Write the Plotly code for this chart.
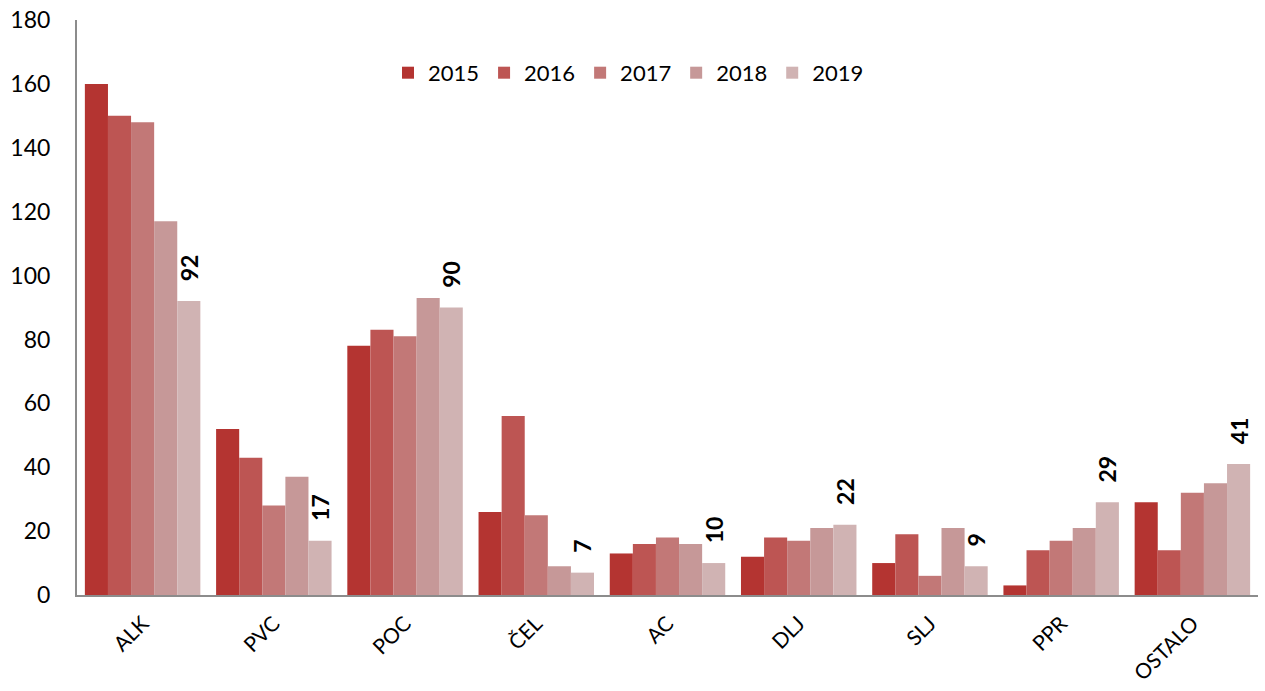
import plotly.graph_objects as go

categories = ["ALK", "PVC", "POC", "ČEL", "AC", "DLJ", "SLJ", "PPR", "OSTALO"]
years = ["2015", "2016", "2017", "2018", "2019"]
v2015 = [160, 52, 78, 26, 13, 12, 10, 3, 29]
v2016 = [150, 43, 83, 56, 16, 18, 19, 14, 14]
v2017 = [148, 28, 81, 25, 18, 17, 6, 17, 32]
v2018 = [117, 37, 93, 9, 16, 21, 21, 21, 35]
v2019 = [92, 17, 90, 7, 10, 22, 9, 29, 41]
series = [v2015, v2016, v2017, v2018, v2019]
colors = ["#b43431", "#bd5553", "#c27877", "#c69898", "#d0b3b3"]
tick_vals = [0, 20, 40, 60, 80, 100, 120, 140, 160, 180]

fig = go.Figure()
for i, (yr, vals) in enumerate(zip(years, series)):
    show_text = (yr == "2019")
    fig.add_trace(go.Bar(
        x=categories, y=vals, name=yr,
        marker=dict(color=colors[i], line=dict(width=0)),
        text=["\u00a0\u00a0\u00a0" + str(v) for v in vals] if show_text else None,
        textposition="outside" if show_text else None,
        textangle=-90,
        textfont=dict(family="Lato, Open Sans, sans-serif", size=23, color="#000000", weight="bold"),
        cliponaxis=False,
    ))

fig.update_layout(
    width=1265, height=691,
    barmode="group", bargap=0.12, bargroupgap=0,
    plot_bgcolor="white", paper_bgcolor="white",
    margin=dict(l=77, r=7, t=20, b=96, autoexpand=False),
    font=dict(family="Lato, Open Sans, sans-serif", color="#000000"),
    uniformtext=dict(mode="show", minsize=23),
    legend=dict(orientation="h", x=0.467, y=0.908, xanchor="center", yanchor="middle",
                font=dict(size=22), bgcolor="rgba(0,0,0,0)", traceorder="normal",
                itemwidth=30),
)
fig.update_yaxes(range=[0, 180], tickvals=tick_vals, showgrid=False, zeroline=False,
                 showline=True, linecolor="#8c8c8c", linewidth=2, ticks="",
                 tickfont=dict(size=23), ticklabelstandoff=20, automargin=False)
fig.update_xaxes(showgrid=False, showline=True, linecolor="#8c8c8c", linewidth=2,
                 ticks="", tickangle=-45, tickfont=dict(size=21), automargin=False,
                 ticklabelstandoff=6)

fig.write_html("out.html", config={"displayModeBar": False},
               post_script="document.body.style.margin='0px';document.body.style.overflow='hidden';")
